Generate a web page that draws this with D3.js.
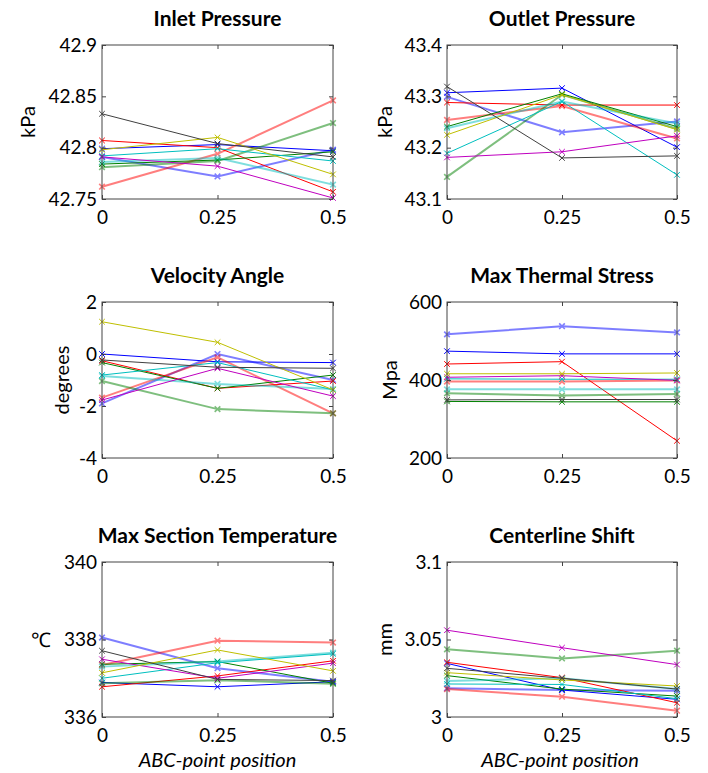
<!DOCTYPE html>
<html><head><meta charset="utf-8">
<script src="https://cdn.jsdelivr.net/npm/d3@7"></script>
<style>
body{margin:0;background:#fff;}
text{font-family:Lato,"Open Sans",sans-serif;fill:#000;}
</style></head>
<body><svg id="c" width="708" height="773"></svg>
<script>
const xPositions = [0, 0.25, 0.5];
const xTickLabels = ["0", "0.25", "0.5"];
const seriesNames = ["blue","blueL","red","redL","green","greenL","cyan","cyanL","magenta","yellow","gray"];
const seriesColors = ["#0000ff","#0000ff","#ff0000","#ff0000","#008000","#008000","#00bfbf","#00bfbf","#bf00bf","#bfbf00","#404040"];
const seriesLight  = [false,true,false,true,false,true,false,true,false,false,false];

const panelTitles = ["Inlet Pressure","Outlet Pressure","Velocity Angle","Max Thermal Stress","Max Section Temperature","Centerline Shift"];
const panelYLabels = ["kPa","kPa","degrees","Mpa","\u2103","mm"];
const panelYDomains = [[42.75,42.9],[43.1,43.4],[-4,2],[200,600],[336,340],[3,3.1]];
const panelYTicks = [[42.75,42.8,42.85,42.9],[43.1,43.2,43.3,43.4],[-4,-2,0,2],[200,400,600],[336,338,340],[3,3.05,3.1]];
const panelYTickLabels = [["42.75","42.8","42.85","42.9"],["43.1","43.2","43.3","43.4"],["-4","-2","0","2"],["200","400","600"],["336","338","340"],["3","3.05","3.1"]];

const inletPressure = {
  blue:[42.799,42.803,42.797], blueL:[42.791,42.772,42.798], red:[42.807,42.800,42.757], redL:[42.762,42.794,42.846],
  green:[42.784,42.788,42.796], greenL:[42.781,42.787,42.824], cyan:[42.792,42.799,42.787], cyanL:[42.786,42.790,42.764],
  magenta:[42.791,42.782,42.751], yellow:[42.798,42.810,42.774], gray:[42.833,42.804,42.791]
};
const outletPressure = {
  blue:[43.307,43.316,43.201], blueL:[43.299,43.230,43.251], red:[43.288,43.283,43.283], redL:[43.254,43.281,43.218],
  green:[43.241,43.305,43.241], greenL:[43.143,43.303,43.237], cyan:[43.189,43.290,43.147], cyanL:[43.238,43.290,43.247],
  magenta:[43.181,43.192,43.223], yellow:[43.225,43.303,43.235], gray:[43.319,43.180,43.184]
};
const velocityAngle = {
  blue:[0.0,-0.3,-0.33], blueL:[-1.9,0.0,-1.0], red:[-0.26,-1.32,-1.04], redL:[-1.68,-0.13,-2.28],
  green:[-0.33,-1.32,-0.81], greenL:[-1.04,-2.12,-2.28], cyan:[-0.81,-0.33,-1.38], cyanL:[-0.85,-1.15,-1.35],
  magenta:[-1.77,-0.55,-1.62], yellow:[1.24,0.45,-1.38], gray:[-0.23,-0.51,-0.55]
};
const thermalStress = {
  blue:[474,467,467], blueL:[517,538,522], red:[441,447,244], redL:[396,396,399],
  green:[345,344,344], greenL:[366,360,364], cyan:[403,402,402], cyanL:[376,376,376],
  magenta:[407,411,399], yellow:[416,416,418], gray:[349,350,350]
};
const sectionTemp = {
  blue:[336.89,336.78,336.91], blueL:[338.05,337.26,336.91], red:[336.78,337.06,337.45], redL:[337.34,337.97,337.92],
  green:[337.36,337.43,336.87], greenL:[336.87,336.95,336.86], cyan:[337.0,337.40,337.63], cyanL:[337.30,337.43,337.66],
  magenta:[337.49,337.0,337.39], yellow:[337.14,337.73,337.19], gray:[337.71,336.97,336.94]
};
const centerlineShift = {
  blue:[3.0346,3.0174,3.0114], blueL:[3.0185,3.0174,3.017], red:[3.0353,3.0254,3.0092], redL:[3.018,3.0131,3.0041],
  green:[3.0267,3.018,3.0135], greenL:[3.0437,3.0378,3.0428], cyan:[3.0213,3.021,3.0118], cyanL:[3.0232,3.025,3.018],
  magenta:[3.056,3.0447,3.0338], yellow:[3.0286,3.0239,3.020], gray:[3.0314,3.025,3.018]
};
const panelData = [inletPressure, outletPressure, velocityAngle, thermalStress, sectionTemp, centerlineShift];

// layout
const cols = [[102,333],[447,677]];
const rows = [[45,199],[302,458],[562,717]];
const yLabelX = [28, 385, 62, 390, 51, 385];

const svg = d3.select("#c");

panelData.forEach((data, i) => {
  const [x0,x1] = cols[i%2], [y0,y1] = rows[Math.floor(i/2)];
  const x = d3.scaleLinear().domain([0,0.5]).range([x0,x1]);
  const y = d3.scaleLinear().domain(panelYDomains[i]).range([y1,y0]);
  const g = svg.append("g");

  // lines
  const line = d3.line().x((d,k)=>x(xPositions[k])).y(d=>y(d));
  seriesNames.forEach((name, s) => {
    const vals = data[name]; if (!vals) return;
    const light = seriesLight[s];
    const col = seriesColors[s];
    const sg = g.append("g").attr("opacity", light ? 0.5 : 1);
    sg.append("path").attr("d", line(vals)).attr("fill","none").attr("stroke",col)
      .attr("stroke-width", light ? 2 : 1);
    vals.forEach((v,k) => {
      const cx = x(xPositions[k]), cy = y(v), r = 2.8;
      sg.append("path").attr("d",`M${cx-r},${cy-r}L${cx+r},${cy+r}M${cx-r},${cy+r}L${cx+r},${cy-r}`)
        .attr("stroke",col).attr("stroke-width", light ? 1.6 : 1);
    });
  });

  // box
  g.append("rect").attr("x",x0).attr("y",y0).attr("width",x1-x0).attr("height",y1-y0)
    .attr("fill","none").attr("stroke","#444").attr("stroke-width",1);

  // axes (inward ticks on all sides)
  const ax = (axis, tx, ty) => {
    const a = g.append("g").attr("transform",`translate(${tx},${ty})`).call(axis);
    a.select(".domain").remove();
    a.selectAll("line").attr("stroke","#444");
    return a;
  };
  const bx = ax(d3.axisBottom(x).tickValues(xPositions).tickFormat((d,k)=>xTickLabels[k]).tickSizeInner(-4).tickSizeOuter(0), 0, y1);
  bx.selectAll("text").attr("font-size",19).attr("font-family","Lato").attr("fill","#000").attr("dy","0.72em").attr("y",11);
  ax(d3.axisTop(x).tickValues(xPositions).tickFormat("").tickSizeInner(-4).tickSizeOuter(0), 0, y0);
  const ly = ax(d3.axisLeft(y).tickValues(panelYTicks[i]).tickFormat((d,k)=>panelYTickLabels[i][k]).tickSizeInner(-4).tickSizeOuter(0), x0, 0);
  ly.selectAll("text").attr("font-size",19).attr("font-family","Lato").attr("fill","#000").attr("x",-5);
  ax(d3.axisRight(y).tickValues(panelYTicks[i]).tickFormat("").tickSizeInner(-4).tickSizeOuter(0), x1, 0);

  // title
  g.append("text").attr("x",(x0+x1)/2).attr("y",y0-19).attr("text-anchor","middle")
    .attr("font-size",21).attr("font-weight","bold").text(panelTitles[i]);

  // y label
  const cy = (y0+y1)/2;
  if (panelYLabels[i] === "\u2103") {
    g.append("text").attr("x",yLabelX[i]).attr("y",cy).attr("dy","0.35em").attr("text-anchor","end")
      .attr("font-size",20).text(panelYLabels[i]);
  } else {
    g.append("text").attr("transform",`translate(${yLabelX[i]},${cy}) rotate(-90)`).attr("text-anchor","middle")
      .attr("dy","0.35em").attr("font-size",20).text(panelYLabels[i]);
  }

  // x label on bottom row
  if (i >= 4) {
    g.append("text").attr("x",(x0+x1)/2 - (i===5?2:0)).attr("y",767).attr("text-anchor","middle")
      .attr("font-size",20).attr("font-style","italic").text("ABC-point position");
  }
});
</script></body></html>
